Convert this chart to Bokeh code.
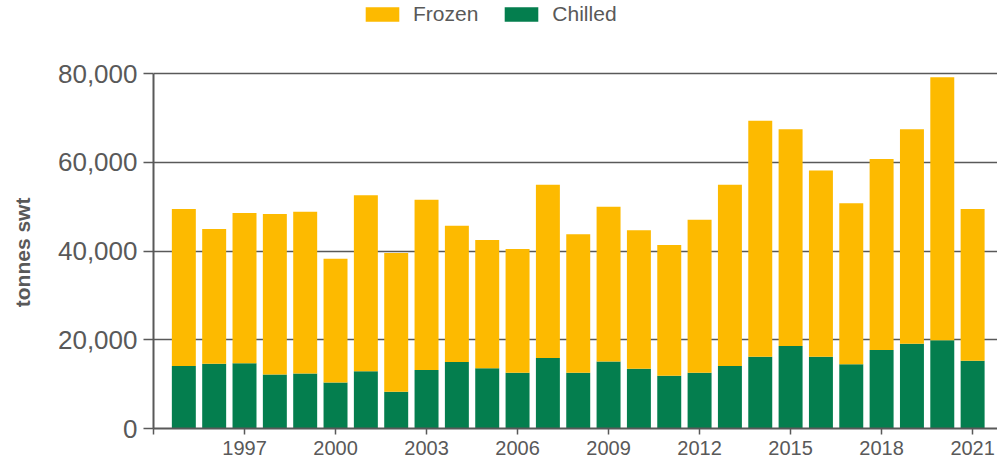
from bokeh.plotting import figure
from bokeh.models import (ColumnDataSource, FixedTicker, NumeralTickFormatter,
                          Range1d, Legend, LegendItem)
from bokeh.embed import file_html
from bokeh.resources import INLINE

years = list(range(1995, 2022))
total = [49.5, 45.0, 48.6, 48.4, 48.9, 38.3, 52.6, 39.6, 51.6, 45.7, 42.5, 40.5, 55.0,
         43.8, 50.0, 44.7, 41.4, 47.1, 55.0, 69.4, 67.5, 58.2, 50.8, 60.8, 67.5, 79.2, 49.5]
chilled = [14.1, 14.6, 14.7, 12.2, 12.4, 10.4, 12.9, 8.3, 13.2, 15.0, 13.6, 12.6, 15.9,
           12.6, 15.1, 13.5, 11.9, 12.6, 14.1, 16.2, 18.6, 16.2, 14.5, 17.7, 19.1, 19.9, 15.3]
chilled_t = [c * 1000 for c in chilled]
frozen_t = [(t - c) * 1000 for t, c in zip(total, chilled)]
x_ticks = [1994, 1997, 2000, 2003, 2006, 2009, 2012, 2015, 2018, 2021]
y_ticks = [0, 20000, 40000, 60000, 80000]

GREEN = "#047E4E"
YELLOW = "#FDBA00"
GREY = "#595959"
FONT = "Liberation Sans"

src = ColumnDataSource(dict(year=years, Chilled=chilled_t, Frozen=frozen_t))

p = figure(width=997, height=467, output_backend="svg", toolbar_location=None,
           x_range=Range1d(1994, 2021.82), y_range=Range1d(0, 96530),
           min_border_left=153, min_border_right=0, min_border_top=0,
           min_border_bottom=39)
p.outline_line_color = None
p.background_fill_color = "white"

r = p.vbar_stack(["Chilled", "Frozen"], x="year", width=0.79, source=src,
                 color=[GREEN, YELLOW], line_color=None)

# axes
p.xaxis.ticker = FixedTicker(ticks=x_ticks)
p.xaxis.major_label_overrides = {1994: ""}
p.yaxis.ticker = FixedTicker(ticks=y_ticks)
p.yaxis.bounds = (0, 80000)
p.yaxis.formatter = NumeralTickFormatter(format="0,0")
for ax in (p.xaxis[0], p.yaxis[0]):
    ax.axis_line_color = GREY
    ax.axis_line_width = 2
    ax.major_tick_line_color = GREY
    ax.major_tick_line_width = 1.5
    ax.minor_tick_line_color = None
    ax.major_label_text_color = GREY
    ax.major_label_text_font = FONT
    ax.major_tick_in = 0
p.xaxis.major_tick_out = 6
p.xaxis.major_label_text_font_size = "20px"
p.xaxis.major_label_standoff = 6
p.yaxis.major_tick_out = 10
p.yaxis.major_label_text_font_size = "26px"
p.yaxis.major_label_standoff = 6
# trailing no-break spaces shift the visible label down to the middle of 0–80,000
p.yaxis.axis_label = "tonnes swt" + "\u00a0" * 13
p.yaxis.axis_label_text_font = FONT
p.yaxis.axis_label_text_font_style = "bold"
p.yaxis.axis_label_text_font_size = "21px"
p.yaxis.axis_label_text_color = GREY
p.yaxis.axis_label_standoff = 21

p.xgrid.grid_line_color = None
p.ygrid.grid_line_color = GREY
p.ygrid.grid_line_width = 1.5
p.ygrid.ticker = FixedTicker(ticks=y_ticks)

legend = Legend(items=[LegendItem(label="Frozen", renderers=[r[1]]),
                       LegendItem(label="Chilled", renderers=[r[0]])],
                orientation="horizontal", location=(208, 402),
                glyph_width=42, glyph_height=18, label_standoff=10, spacing=22,
                padding=0, margin=0, border_line_color=None,
                background_fill_alpha=0, label_text_font=FONT,
                label_text_font_size="21px", label_text_color=GREY,
                label_height=18)
p.add_layout(legend, "center")

open("out.html", "w").write(file_html(p, INLINE))
